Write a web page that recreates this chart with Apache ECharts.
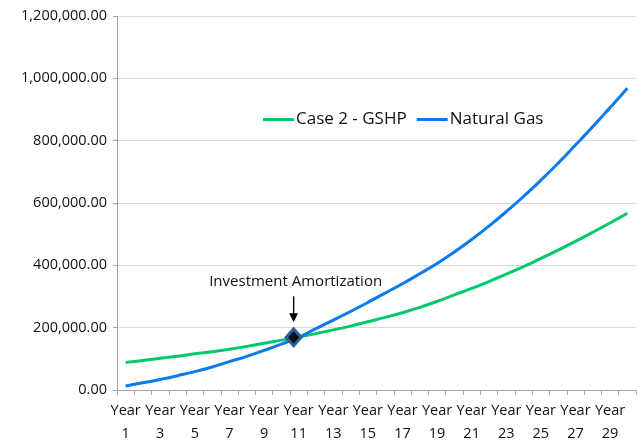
<!DOCTYPE html>
<html>
<head>
<meta charset="utf-8">
<script src="https://cdn.jsdelivr.net/npm/echarts@6/dist/echarts.min.js"></script>
<style>
  html, body { margin: 0; padding: 0; background: #fff; }
  #chart { width: 637px; height: 440px; }
</style>
</head>
<body>
<div id="chart"></div>
<script>
// categories
const years = []
for (let i = 1; i <= 30; i++) years.push('Year ' + i)

// series values
const gshp = [88000, 95000, 102000, 108000, 116000, 123000, 131000, 140000, 150000, 160000,
  170000, 181000, 193000, 205000, 219000, 233000, 248000, 265000, 284000, 305000,
  326000, 348000, 372000, 396000, 422000, 449000, 477000, 506000, 536000, 567000]
const naturalGas = [13000, 23000, 34000, 46000, 59000, 74000, 91000, 108000, 127000, 147000,
  169000, 197000, 224000, 252000, 281000, 311000, 341000, 373000, 406000, 443000,
  483000, 526000, 572000, 621000, 673000, 728000, 786000, 845000, 906000, 968000]

// y axis ticks
const yMin = 0
const yMax = 1200000
const yStep = 200000

// annotation
const amortYear = 10 // index of Year 11
const amortValue = 169000
const amortText = 'Investment Amortization'

const fontFamily = '"Open Sans", "Noto Sans", sans-serif'

let chart = echarts.init(document.getElementById('chart'))
let option = {
  animation: false,
  grid: {
    left: 117,
    right: 1,
    top: 16,
    bottom: 50,
    containLabel: false,
    outerBoundsMode: 'none'
  },
  legend: {
    left: 258,
    top: 106,
    itemWidth: 31,
    itemHeight: 14,
    itemGap: 10,
    textStyle: {
      fontSize: 17,
      fontWeight: 500,
      color: '#111',
      fontFamily: fontFamily,
      padding: [0, 0, 0, -3]
    },
    data: [
      { name: 'Case 2 - GSHP', icon: 'path://M0,5.5 L31,5.5 L31,8.5 L0,8.5 Z' },
      { name: 'Natural Gas', icon: 'path://M0,5.5 L31,5.5 L31,8.5 L0,8.5 Z' }
    ]
  },
  xAxis: {
    type: 'category',
    data: years,
    boundaryGap: true,
    axisLine: { lineStyle: { color: '#a6a6a6', width: 1 } },
    axisTick: {
      show: true,
      interval: 0,
      length: 5,
      lineStyle: { color: '#a6a6a6' }
    },
    axisLabel: {
      interval: 1,
      margin: 9,
      fontSize: 14.5,
      fontWeight: 500,
      lineHeight: 23,
      color: '#111',
      fontFamily: fontFamily,
      formatter: function (v) {
        return v.replace(' ', '\n')
      }
    }
  },
  yAxis: {
    type: 'value',
    min: yMin,
    max: yMax,
    interval: yStep,
    axisLine: { show: true, lineStyle: { color: '#a6a6a6' } },
    axisTick: { show: true, length: 4, lineStyle: { color: '#a6a6a6' } },
    splitLine: { lineStyle: { color: '#d9d9d9' } },
    axisLabel: {
      margin: 10,
      fontSize: 14.5,
      fontWeight: 500,
      color: '#111',
      fontFamily: fontFamily,
      formatter: function (v) {
        return v.toLocaleString('en-US', { minimumFractionDigits: 2, maximumFractionDigits: 2 })
      }
    }
  },
  series: [
    {
      name: 'Case 2 - GSHP',
      type: 'line',
      smooth: true,
      showSymbol: false,
      data: gshp,
      lineStyle: { width: 3, color: '#00c86c' },
      itemStyle: { color: '#00c86c' }
    },
    {
      name: 'Natural Gas',
      type: 'line',
      smooth: true,
      showSymbol: false,
      data: naturalGas,
      z: 3,
      lineStyle: { width: 3, color: '#0a7bee' },
      itemStyle: { color: '#0a7bee' },
      markPoint: {
        silent: true,
        data: [
          {
            // diamond at the crossing
            coord: [amortYear, amortValue],
            symbol: 'diamond',
            symbolSize: [15, 17],
            symbolOffset: [-5, 0],
            itemStyle: { color: '#0b0f1a', borderColor: '#2f5f9a', borderWidth: 3 },
            label: { show: false }
          },
          {
            // arrow pointing down to the diamond
            coord: [amortYear, 259000],
            symbol: 'path://M3.4,0 L4.6,0 L4.6,17 L8,17 L4,26 L0,17 L3.4,17 Z',
            symbolSize: [9, 26],
            symbolOffset: [-5, 0],
            itemStyle: { color: '#000' },
            label: { show: false }
          },
          {
            coord: [amortYear, 346000],
            symbol: 'rect',
            symbolSize: 1,
            symbolOffset: [-3, 0],
            itemStyle: { color: 'rgba(0,0,0,0)' },
            label: {
              show: true,
              position: 'inside',
              formatter: amortText,
              fontSize: 15,
              fontWeight: 500,
              color: '#111',
              fontFamily: fontFamily
            }
          }
        ]
      }
    }
  ]
}
chart.setOption(option)
</script>
</body>
</html>
